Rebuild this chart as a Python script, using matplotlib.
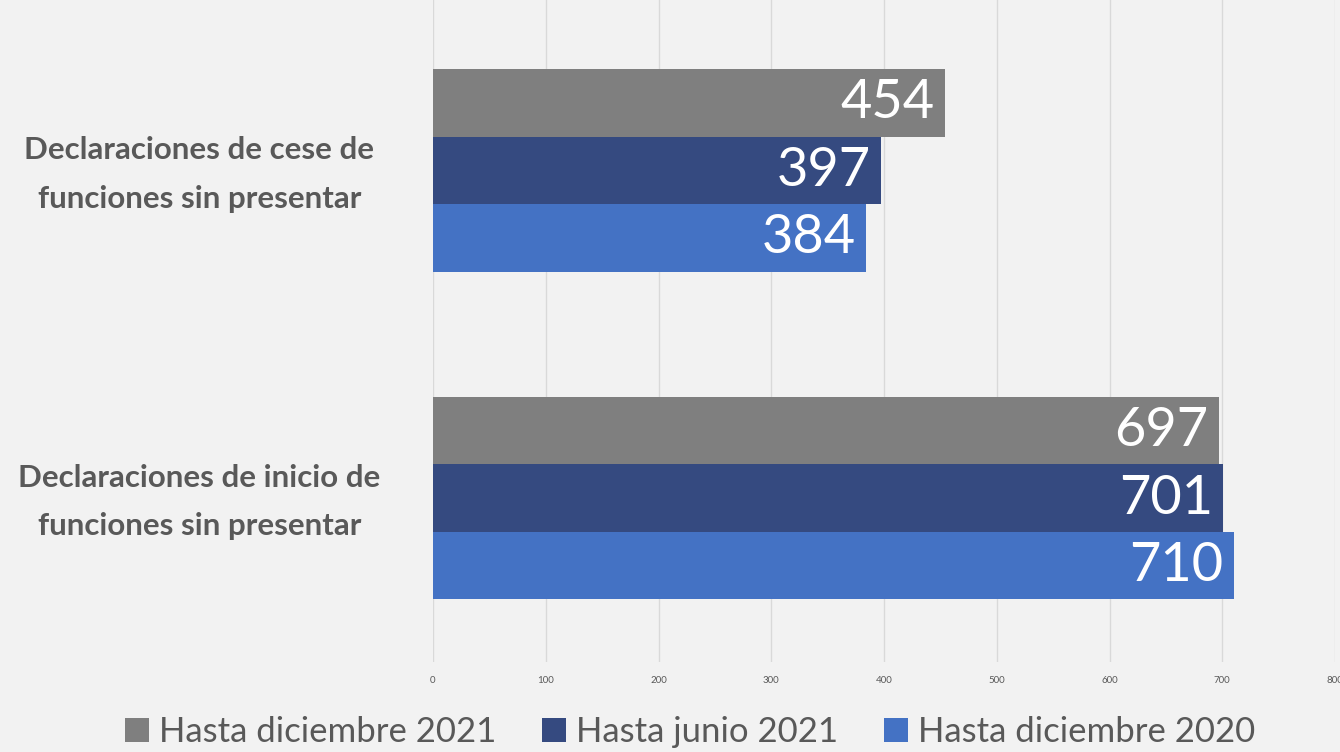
import numpy as np
import matplotlib
matplotlib.use("Agg")
import matplotlib.pyplot as plt
from matplotlib.transforms import ScaledTranslation

plt.rcParams['font.family'] = ['Lato', 'DejaVu Sans']

# datos
categorias = ['Declaraciones de inicio de\nfunciones sin presentar',
              'Declaraciones de cese de\nfunciones sin presentar']
series = ['Hasta diciembre 2021', 'Hasta junio 2021', 'Hasta diciembre 2020']
dic_2021 = [697, 454]
jun_2021 = [701, 397]
dic_2020 = [710, 384]
colores = ['#7F7F7F', '#354A80', '#4472C4']

fondo = '#F2F2F2'
gris_txt = '#595959'

fig = plt.figure(figsize=(13.4, 7.52), dpi=100, facecolor=fondo)
ax = fig.add_axes([433 / 1340, 1 - 662 / 752, (1335 - 433) / 1340, 662 / 752])
ax.set_facecolor(fondo)

y = np.arange(len(categorias))
h = 0.206
offsets = [h, 0, -h]
valores = [dic_2021, jun_2021, dic_2020]

for vals, off, col, nom in zip(valores, offsets, colores, series):
    barras = ax.barh(y + off, vals, height=h, color=col, label=nom, zorder=3)
    for b, v in zip(barras, vals):
        ax.text(b.get_width() - 9, b.get_y() + b.get_height() / 2, str(v),
                ha='right', va='center', color='white', fontsize=39, zorder=4)

ax.set_xlim(0, 800)
ax.set_ylim(-0.5, 1.52)
ax.set_xticks(np.arange(0, 801, 100))
ax.tick_params(axis='x', length=0, labelsize=7, labelcolor=gris_txt, pad=10)
ax.xaxis.grid(True, color='#D9D9D9', linewidth=1, zorder=0)
ax.set_yticks(y)
ax.set_yticklabels(categorias, fontsize=22.5, fontweight='bold', color=gris_txt,
                   ha='center', linespacing=1.9)
ax.tick_params(axis='y', length=0, pad=0)
subir = ScaledTranslation(0, 0.09, fig.dpi_scale_trans)
for lab in ax.get_yticklabels():
    lab.set_x(-0.259)
    lab.set_transform(lab.get_transform() + subir)
for s in ax.spines.values():
    s.set_visible(False)

leg = fig.legend(loc='lower center', bbox_to_anchor=(0.515, -0.036), ncol=3,
                 frameon=False, fontsize=25, handlelength=0.7, handleheight=0.7,
                 handletextpad=0.3, columnspacing=1.3, labelcolor=gris_txt)

fig.savefig('out.png', dpi=100, facecolor=fondo)
